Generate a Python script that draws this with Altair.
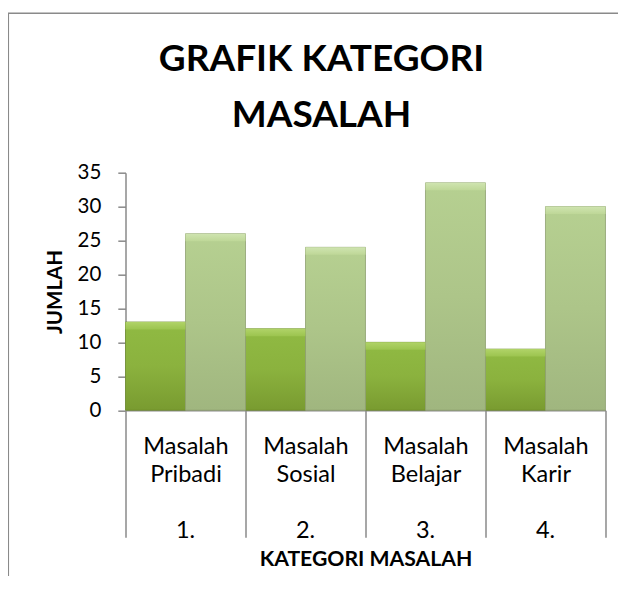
import altair as alt
import pandas as pd

# ---- data ----
kategori = ["Masalah Pribadi", "Masalah Sosial", "Masalah Belajar", "Masalah Karir"]
nomor = ["1.", "2.", "3.", "4."]
seri = ["Seri 1", "Seri 2"]
nilai_seri1 = [13, 12, 10, 9]
nilai_seri2 = [26, 24, 33.5, 30]
y_ticks = [0, 5, 10, 15, 20, 25, 30, 35]
judul = ["GRAFIK KATEGORI", "MASALAH"]
judul_x = "KATEGORI MASALAH"
judul_y = "JUMLAH"

rows = []
for k, n, v1, v2 in zip(kategori, nomor, nilai_seri1, nilai_seri2):
    key = n + " " + k
    rows.append({"key": key, "seri": seri[0], "jumlah": v1})
    rows.append({"key": key, "seri": seri[1], "jumlah": v2})
df = pd.DataFrame(rows)
order = [n + " " + k for n, k in zip(nomor, kategori)]

FONT = "Lato"
GRAY = "#8a8a8a"
VALID = "isValid(datum.value) && indexof(datum.value, ' ') > 0"

x_scale = alt.Scale(domain=order, paddingInner=0, paddingOuter=0)

# main category axis: dividers + two-line category names + axis title
x_enc = alt.X(
    "key:N",
    sort=order,
    scale=x_scale,
    axis=alt.Axis(
        orient="bottom",
        title=judul_x,
        labelAngle=0,
        tickBand="extent",
        tickSize=127,
        tickColor=GRAY,
        tickWidth=1.5,
        domainColor=GRAY,
        domainWidth=1.5,
        labelPadding=-83.7,
        labelBaseline="alphabetic",
        labelLineHeight=28,
        labelFont=FONT,
        labelFontSize=23.5,
        labelColor="#000000",
        labelOverlap=False,
        labelExpr=VALID + " ? [split(datum.value,' ')[1], split(datum.value,' ')[2]] : ''",
        titleFont=FONT,
        titleFontSize=21.2,
        titleFontWeight="bold",
        titleColor="#000000",
        titleY=155,
        titleBaseline="alphabetic",
    ),
)

# second level of the category axis: the numbers
x_enc_num = alt.X(
    "key:N",
    sort=order,
    scale=x_scale,
    axis=alt.Axis(
        orient="bottom",
        title="",
        ticks=False,
        domain=False,
        labelAngle=0,
        labelPadding=127,
        labelBaseline="alphabetic",
        labelFont=FONT,
        labelFontSize=23.5,
        labelColor="#000000",
        labelOverlap=False,
        labelExpr=VALID + " ? split(datum.value,' ')[0] : ''",
    ),
)

y_enc = alt.Y(
    "jumlah:Q",
    scale=alt.Scale(domain=[0, 35], nice=False),
    axis=alt.Axis(
        title=judul_y,
        values=y_ticks,
        grid=False,
        tickSize=7.7,
        tickColor=GRAY,
        tickWidth=1.5,
        domainColor=GRAY,
        domainWidth=1.5,
        labelPadding=17,
        labelFont=FONT,
        labelFontSize=20.5,
        labelColor="#000000",
        titleFont=FONT,
        titleFontSize=20.5,
        titleFontWeight="bold",
        titleColor="#000000",
        titleX=-70.5,
        titleY=118.75,
        titleAngle=270,
        titleBaseline="middle",
        titleAlign="center",
    ),
)

xo_enc = alt.XOffset("seri:N", scale=alt.Scale(domain=seri, paddingInner=0, paddingOuter=0))


def vgrad(colors, offsets):
    return alt.Gradient(
        gradient="linear",
        stops=[alt.GradientStop(color=c, offset=o) for c, o in zip(colors, offsets)],
        x1=0, x2=0, y1=0, y2=1,
    )


grad_dark = vgrad(["#90ba43", "#8bb23e", "#799b30"], [0, 0.5, 1])
grad_light = vgrad(["#b6d091", "#adc589", "#a0b67f"], [0, 0.5, 1])
bevel_dark = vgrad(["#b0d368", "#9cc44f"], [0, 1])
bevel_light = vgrad(["#cfe4b0", "#bed797"], [0, 1])

base = alt.Chart(df).encode(x=x_enc, y=y_enc, xOffset=xo_enc)
bar1 = base.mark_bar(fill=grad_dark, stroke="#6a8a28", strokeWidth=1, strokeOpacity=0.7).transform_filter(
    alt.datum.seri == seri[0]
)
bar2 = base.mark_bar(fill=grad_light, stroke="#8ea070", strokeWidth=1, strokeOpacity=0.8).transform_filter(
    alt.datum.seri == seri[1]
)
bars = alt.layer(bar1, bar2)

# bevel highlight strip along the top edge of each bar (carries the number axis)
bevel_base = alt.Chart(df).transform_calculate(bawah="datum.jumlah - 1.1").encode(
    x=x_enc_num, xOffset=xo_enc, y=y_enc, y2="bawah:Q"
)
bev1 = bevel_base.mark_bar(fill=bevel_dark, strokeWidth=0).transform_filter(alt.datum.seri == seri[0])
bev2 = bevel_base.mark_bar(fill=bevel_light, strokeWidth=0).transform_filter(alt.datum.seri == seri[1])
bevels = alt.layer(bev1, bev2)

frame = alt.Chart(pd.DataFrame({"f": [0]})).mark_rect(
    fillOpacity=0, stroke=GRAY, strokeWidth=1.5
).encode(
    x=alt.value(-117.2), x2=alt.value(620), y=alt.value(-159.4), y2=alt.value(500)
)

chart = alt.layer(frame, bars, bevels).resolve_axis(x="independent").properties(
    width=480,
    height=237.5,
    title=alt.TitleParams(
        text=judul,
        font=FONT,
        fontSize=37,
        fontWeight="bold",
        color="#000000",
        anchor="middle",
        frame="group",
        baseline="alphabetic",
        dx=-44,
        lineHeight=56,
        offset=-151.1,
    ),
    autosize=alt.AutoSizeParams(type="none"),
    padding={"left": 117.5, "top": 164.7, "right": 12, "bottom": 166},
).configure_view(strokeOpacity=0)

chart.save("out.html", embed_options={"renderer": "svg", "actions": False})
